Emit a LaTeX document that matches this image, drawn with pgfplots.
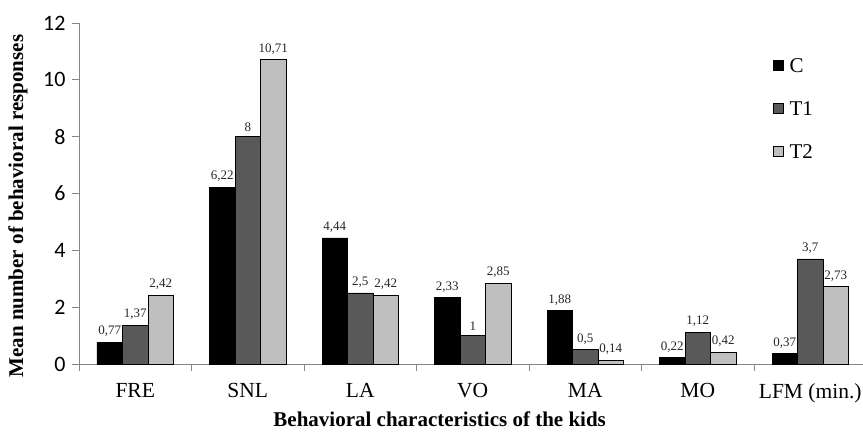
\documentclass[border=0pt]{standalone}
\usepackage{pgfplots}
\pgfplotsset{compat=1.18}
\usepackage{fontspec}
\setmainfont{Liberation Serif}
\newfontfamily\carlito{Carlito}
\definecolor{tone}{HTML}{595959}
\definecolor{ttwo}{HTML}{BFBFBF}
\definecolor{axgray}{HTML}{868686}

\begin{document}
\begin{tikzpicture}
\begin{axis}[
    at={(79pt,68pt)}, anchor=south west,
    scale only axis,
    width=787.5pt, height=341pt,
    /pgf/number format/assume math mode=true,
    /pgf/number format/use comma,
    ybar=0pt,
    bar width=25.5pt,
    xmin=-0.5, xmax=6.5,
    ymin=0, ymax=12,
    ytick={0,2,...,12},
    xtick={0,...,6},
    xticklabels={FRE,SNL,LA,VO,MA,MO,LFM (min.)},
    minor xtick={-0.5,0.5,...,6.5},
    axis x line*=bottom,
    axis y line*=left,
    axis line style={draw=axgray, line width=0.8pt},
    tick align=outside,
    major tick length=7pt,
    minor tick length=7pt,
    major x tick style={draw=none},
    minor x tick style={draw=axgray, line width=0.8pt},
    ytick style={draw=axgray, line width=0.8pt},
    yticklabel style={font=\carlito\fontsize{22}{22}\selectfont, xshift=-3pt},
    xticklabel style={font=\fontsize{21.5}{21.5}\selectfont, yshift=-9pt},
    xlabel={Behavioral characteristics of the kids},
    ylabel={Mean number of behavioral responses},
    xlabel style={font=\bfseries\fontsize{21}{21}\selectfont,
        at={(axis description cs:0.458,-0.162)}, anchor=center},
    ylabel style={font=\bfseries\fontsize{21}{21}\selectfont,
        at={(axis description cs:-0.0775,0.463)}, anchor=center},
    nodes near coords,
    every node near coord/.append style={font=\fontsize{13}{13}\selectfont,
        text=black!85, inner sep=5pt},
    every axis plot/.append style={draw=black, line width=0.6pt},
    legend style={at={(axis description cs:0.8775,0.905)}, anchor=north west,
        draw=none, fill=none, font=\fontsize{21}{21}\selectfont,
        row sep=27pt, nodes={inner sep=1pt, text height=14pt, text depth=0pt}},
    legend image code/.code={\draw[#1, draw=black, line width=0.6pt] (0pt,-5pt) rectangle (10pt,5pt);
        \path[draw=none, fill=none] (0pt,0pt) -- (15pt,0pt);},
    legend cell align=left,
]
\addplot[fill=black] coordinates {(0,0.77) (1,6.22) (2,4.44) (3,2.33) (4,1.88) (5,0.22) (6,0.37)};
\addplot[fill=tone] coordinates {(0,1.37) (1,8) (2,2.5) (3,1) (4,0.5) (5,1.12) (6,3.7)};
\addplot[fill=ttwo] coordinates {(0,2.42) (1,10.71) (2,2.42) (3,2.85) (4,0.14) (5,0.42) (6,2.73)};
\legend{C,T1,T2}
\end{axis}
\pgfresetboundingbox
\useasboundingbox (0,0) rectangle (863pt,432pt);
\end{tikzpicture}
\end{document}
